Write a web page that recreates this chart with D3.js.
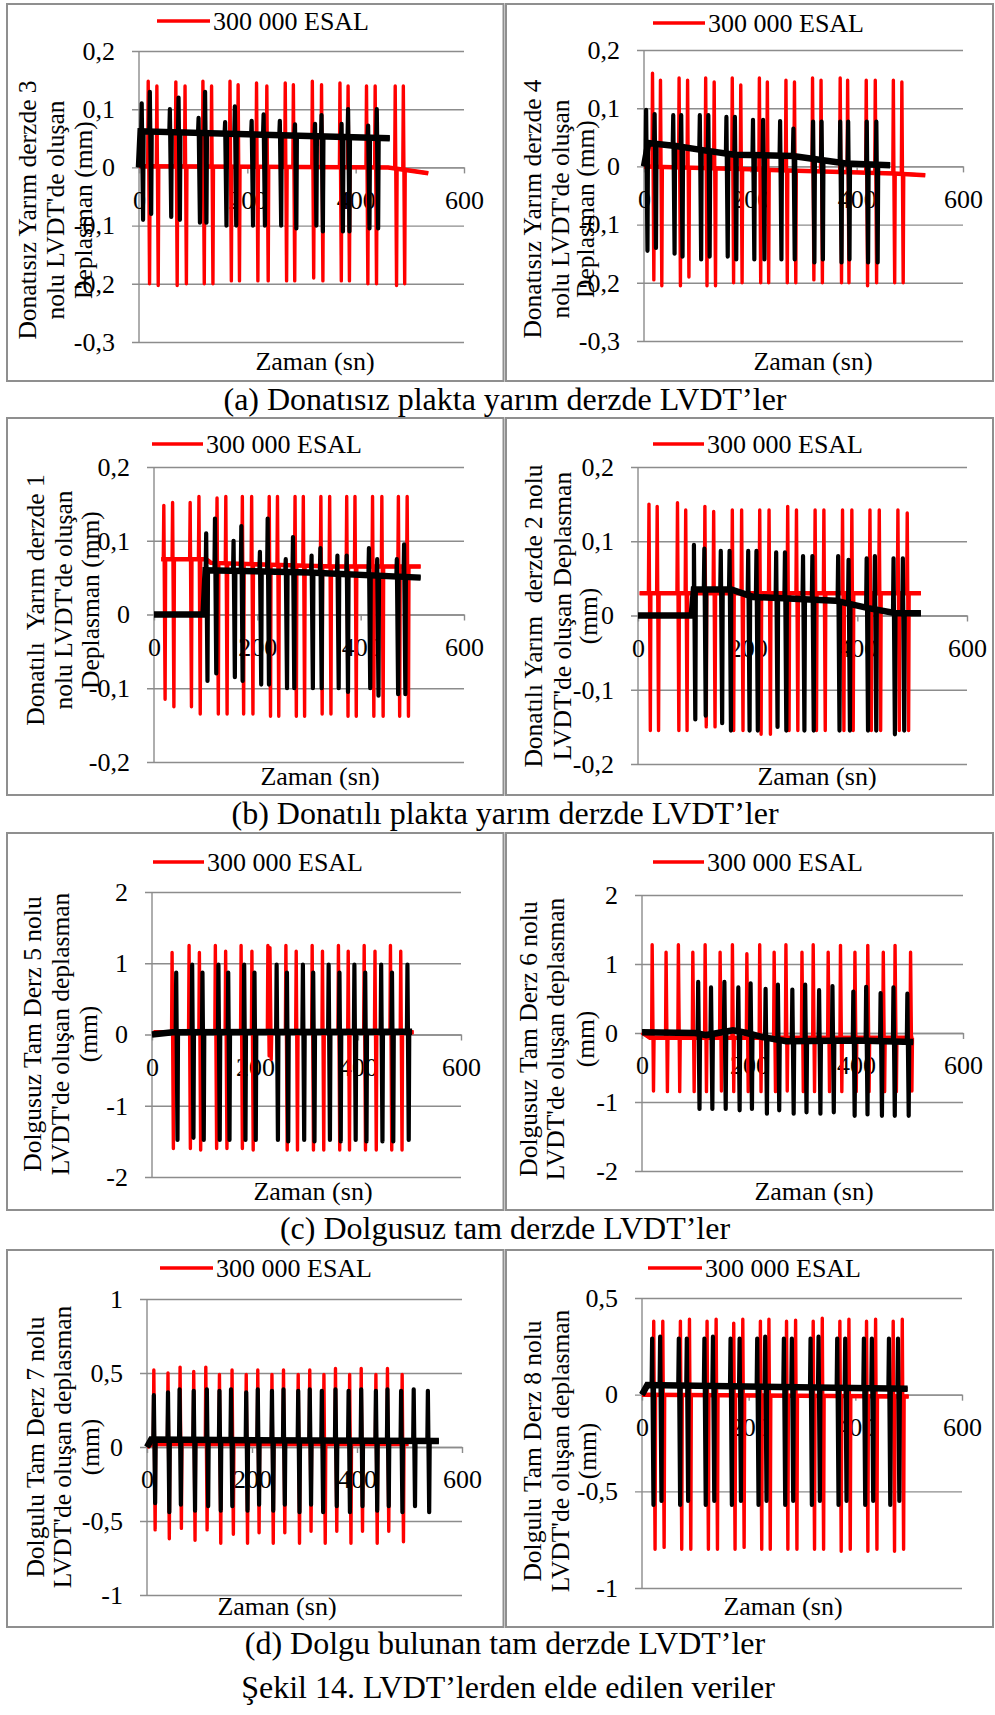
<!DOCTYPE html>
<html>
<head>
<meta charset="utf-8">
<script src="https://cdn.jsdelivr.net/npm/d3@7"></script>
<style>
  body { margin: 0; background: #fff; }
  svg { display: block; }
  text { font-family: "Liberation Serif", "Times New Roman", serif; fill: #000; }
</style>
</head>
<body>
<div id="fig"></div>
<script>
// ---- data (time in s, displacement in mm) ----
const xTicks = [0, 200, 400, 600];
const legendLabel = "300 000 ESAL";

// (a) left - LVDT 3
const a1Ticks = [-0.3, -0.2, -0.1, 0, 0.1, 0.2];
const a1RedBaseT = [0, 460, 534];
const a1RedBaseV = [0.002, 0, -0.01];
const a1RedT = [17, 33, 68, 85, 118, 134, 168, 183, 217, 236, 270, 285, 320, 337, 371, 386, 420, 436, 473, 488];
const a1RedHi = [0.148, 0.14, 0.147, 0.14, 0.148, 0.14, 0.148, 0.142, 0.145, 0.14, 0.145, 0.142, 0.148, 0.142, 0.145, 0.14, 0.14, 0.14, 0.14, 0.14];
const a1RedLo = [-0.2, -0.203, -0.203, -0.2, -0.2, -0.2, -0.195, -0.195, -0.195, -0.195, -0.195, -0.195, -0.19, -0.195, -0.195, -0.195, -0.2, -0.2, -0.203, -0.2];
const a1BlkBaseT = [0, 3, 463];
const a1BlkBaseV = [0, 0.062, 0.05];
const a1BlkT = [5, 20, 57, 73, 110, 122, 159, 177, 208, 230, 260, 288, 325, 337, 374, 386, 423, 439];
const a1BlkHi = [0.11, 0.13, 0.10, 0.12, 0.085, 0.13, 0.078, 0.105, 0.08, 0.091, 0.08, 0.074, 0.075, 0.09, 0.075, 0.1, 0.072, 0.1];
const a1BlkLo = [-0.09, -0.08, -0.085, -0.09, -0.095, -0.095, -0.1, -0.1, -0.1, -0.1, -0.1, -0.105, -0.1, -0.11, -0.11, -0.11, -0.105, -0.105];

// (a) right - LVDT 4
const a2Ticks = [-0.3, -0.2, -0.1, 0, 0.1, 0.2];
const a2RedBaseT = [0, 200, 470, 529];
const a2RedBaseV = [0, -0.005, -0.012, -0.015];
const a2RedT = [16, 31, 66, 82, 116, 132, 166, 182, 217, 232, 267, 283, 317, 333, 369, 383, 418, 435, 469, 485];
const a2RedHi = [0.16, 0.148, 0.152, 0.148, 0.152, 0.145, 0.152, 0.14, 0.152, 0.145, 0.148, 0.145, 0.152, 0.148, 0.152, 0.148, 0.148, 0.148, 0.148, 0.145];
const a2RedLo = [-0.195, -0.205, -0.205, -0.19, -0.205, -0.205, -0.2, -0.2, -0.2, -0.2, -0.2, -0.2, -0.195, -0.2, -0.2, -0.2, -0.205, -0.2, -0.2, -0.2];
const a2BlkBaseT = [0, 8, 60, 110, 170, 280, 380, 463];
const a2BlkBaseV = [0, 0.04, 0.035, 0.028, 0.02, 0.018, 0.005, 0.002];
const a2BlkT = [4, 20, 55, 70, 105, 121, 155, 171, 205, 224, 256, 281, 318, 334, 369, 384, 419, 437];
const a2BlkHi = [0.097, 0.09, 0.088, 0.088, 0.088, 0.088, 0.085, 0.085, 0.08, 0.08, 0.078, 0.065, 0.077, 0.077, 0.077, 0.077, 0.077, 0.077];
const a2BlkLo = [-0.145, -0.14, -0.15, -0.155, -0.16, -0.155, -0.155, -0.16, -0.16, -0.16, -0.16, -0.16, -0.165, -0.16, -0.165, -0.16, -0.165, -0.165];

// (b) left - LVDT 1
const b1Ticks = [-0.2, -0.1, 0, 0.1, 0.2];
const b1RedBaseT = [14, 101, 110, 347, 516];
const b1RedBaseV = [0.075, 0.075, 0.07, 0.065, 0.065];
const b1RedT = [19, 36, 70, 87, 122, 139, 171, 189, 223, 239, 273, 289, 323, 340, 373, 389, 423, 441, 473, 490];
const b1RedHi = [0.148, 0.152, 0.152, 0.16, 0.158, 0.16, 0.16, 0.16, 0.16, 0.16, 0.16, 0.16, 0.16, 0.16, 0.16, 0.16, 0.16, 0.16, 0.16, 0.16];
const b1RedLo = [-0.115, -0.125, -0.125, -0.135, -0.135, -0.135, -0.135, -0.135, -0.138, -0.138, -0.138, -0.138, -0.135, -0.135, -0.138, -0.138, -0.138, -0.138, -0.138, -0.138];
const b1BlkBaseT = [0, 96, 100, 300, 516];
const b1BlkBaseV = [0, 0, 0.06, 0.057, 0.05];
const b1BlkT = [101, 118, 154, 169, 205, 220, 255, 269, 305, 322, 355, 373, 416, 432, 470, 484];
const b1BlkHi = [0.11, 0.13, 0.1, 0.12, 0.085, 0.13, 0.075, 0.105, 0.08, 0.09, 0.08, 0.08, 0.09, 0.075, 0.075, 0.095];
const b1BlkLo = [-0.09, -0.08, -0.085, -0.09, -0.095, -0.095, -0.1, -0.1, -0.1, -0.1, -0.1, -0.105, -0.1, -0.11, -0.108, -0.108];

// (b) right - LVDT 2
const b2Ticks = [-0.2, -0.1, 0, 0.1, 0.2];
const b2RedBaseT = [3, 516];
const b2RedBaseV = [0.03, 0.03];
const b2RedT = [20, 35, 72, 87, 122, 138, 172, 189, 222, 239, 273, 289, 323, 339, 373, 390, 423, 440, 474, 491];
const b2RedHi = [0.15, 0.147, 0.152, 0.142, 0.147, 0.14, 0.142, 0.142, 0.142, 0.142, 0.147, 0.142, 0.142, 0.142, 0.142, 0.142, 0.142, 0.142, 0.142, 0.138];
const b2RedLo = [-0.155, -0.155, -0.155, -0.155, -0.15, -0.15, -0.155, -0.155, -0.16, -0.16, -0.155, -0.155, -0.155, -0.155, -0.155, -0.155, -0.155, -0.155, -0.155, -0.155];
const b2BlkBaseT = [0, 98, 102, 170, 210, 360, 420, 470, 516];
const b2BlkBaseV = [0, 0, 0.035, 0.035, 0.025, 0.02, 0.01, 0.003, 0.003];
const b2BlkT = [102, 121, 151, 167, 201, 216, 252, 268, 301, 318, 365, 384, 417, 432, 466, 483];
const b2BlkHi = [0.095, 0.09, 0.087, 0.087, 0.087, 0.087, 0.085, 0.085, 0.08, 0.08, 0.08, 0.075, 0.077, 0.08, 0.077, 0.077];
const b2BlkLo = [-0.14, -0.135, -0.145, -0.155, -0.155, -0.155, -0.15, -0.155, -0.155, -0.155, -0.155, -0.155, -0.155, -0.155, -0.16, -0.155];

// (c) left - LVDT 5
const c1Ticks = [-2, -1, 0, 1, 2];
const c1RedBaseT = [3, 508];
const c1RedBaseV = [0.03, 0.03];
const c1RedT = [39, 72, 92, 123, 143, 173, 194, 225, 229, 260, 280, 311, 331, 362, 381, 412, 433, 463, 483];
const c1RedHi = [1.15, 1.25, 1.15, 1.25, 1.17, 1.25, 1.17, 1.25, 1.22, 1.25, 1.17, 1.25, 1.17, 1.25, 1.17, 1.25, 1.17, 1.25, 1.17];
const c1RedLo = [-1.6, -1.6, -1.62, -1.6, -1.6, -1.6, -1.62, -0.3, -0.35, -1.62, -1.62, -1.62, -1.62, -1.62, -1.62, -1.62, -1.62, -1.62, -1.62];
const c1BlkBaseT = [0, 40, 505];
const c1BlkBaseV = [0, 0.03, 0.04];
const c1BlkT = [47, 78, 98, 129, 148, 179, 199, 242, 262, 293, 313, 343, 364, 393, 414, 445, 466, 496];
const c1BlkHi = [0.87, 0.98, 0.87, 0.98, 0.87, 0.98, 0.87, 0.98, 0.87, 0.98, 0.87, 0.98, 0.87, 0.98, 0.87, 0.98, 0.87, 0.98];
const c1BlkLo = [-1.48, -1.45, -1.48, -1.48, -1.48, -1.48, -1.48, -1.48, -1.5, -1.48, -1.5, -1.48, -1.5, -1.48, -1.5, -1.5, -1.5, -1.48];

// (c) right - LVDT 6
const c2Ticks = [-2, -1, 0, 1, 2];
const c2RedBaseT = [0, 15, 507];
const c2RedBaseV = [0.01, -0.07, -0.07];
const c2RedT = [19, 45, 68, 95, 118, 146, 169, 196, 220, 247, 269, 299, 320, 348, 371, 398, 422, 451, 473, 502];
const c2RedHi = [1.28, 1.17, 1.28, 1.17, 1.28, 1.17, 1.28, 1.15, 1.28, 1.17, 1.28, 1.17, 1.28, 1.17, 1.27, 1.17, 1.27, 1.17, 1.27, 1.17];
const c2RedLo = [-0.84, -0.85, -0.85, -0.85, -0.85, -0.84, -0.85, -0.85, -0.85, -0.85, -0.84, -0.85, -0.85, -0.85, -0.85, -0.85, -0.85, -0.85, -0.85, -0.84];
const c2BlkBaseT = [0, 100, 120, 170, 196, 225, 270, 400, 507];
const c2BlkBaseV = [0.01, 0, -0.03, 0.04, 0, -0.06, -0.12, -0.11, -0.13];
const c2BlkT = [105, 129, 154, 180, 203, 231, 254, 281, 305, 331, 356, 395, 419, 446, 470, 496];
const c2BlkHi = [0.74, 0.66, 0.74, 0.66, 0.72, 0.64, 0.7, 0.63, 0.7, 0.62, 0.68, 0.6, 0.67, 0.58, 0.66, 0.57];
const c2BlkLo = [-1.1, -1.1, -1.1, -1.12, -1.1, -1.17, -1.12, -1.17, -1.15, -1.17, -1.15, -1.2, -1.18, -1.2, -1.2, -1.2];

// (d) left - LVDT 7
const d1Ticks = [-1, -0.5, 0, 0.5, 1];
const d1RedBaseT = [0, 10, 498];
const d1RedBaseV = [0, 0.02, 0.02];
const d1RedT = [13, 40, 63, 89, 112, 138, 162, 189, 211, 238, 260, 288, 310, 337, 359, 386, 408, 436, 458, 486];
const d1RedHi = [0.52, 0.5, 0.54, 0.51, 0.54, 0.49, 0.52, 0.49, 0.52, 0.49, 0.52, 0.49, 0.52, 0.49, 0.53, 0.49, 0.53, 0.49, 0.53, 0.49];
const d1RedLo = [-0.56, -0.62, -0.55, -0.63, -0.56, -0.65, -0.59, -0.65, -0.58, -0.65, -0.58, -0.65, -0.57, -0.65, -0.57, -0.65, -0.57, -0.65, -0.57, -0.64];
const d1BlkBaseT = [0, 8, 556];
const d1BlkBaseV = [0, 0.05, 0.04];
const d1BlkT = [13, 40, 62, 89, 114, 138, 160, 189, 211, 238, 260, 288, 310, 333, 359, 384, 408, 436, 458, 484, 508, 535];
const d1BlkHi = [0.35, 0.37, 0.39, 0.38, 0.39, 0.38, 0.39, 0.37, 0.39, 0.38, 0.39, 0.38, 0.39, 0.38, 0.39, 0.38, 0.39, 0.38, 0.39, 0.38, 0.39, 0.38];
const d1BlkLo = [-0.38, -0.44, -0.39, -0.43, -0.4, -0.43, -0.4, -0.43, -0.39, -0.43, -0.39, -0.44, -0.39, -0.44, -0.4, -0.44, -0.4, -0.43, -0.4, -0.44, -0.4, -0.44];

// (d) right - LVDT 8
const d2Ticks = [-1, -0.5, 0, 0.5];
const d2RedBaseT = [0, 500];
const d2RedBaseV = [0, -0.01];
const d2RedT = [22, 39, 72, 89, 122, 139, 172, 189, 222, 238, 271, 288, 321, 338, 371, 388, 421, 438, 471, 488];
const d2RedHi = [0.38, 0.38, 0.38, 0.39, 0.38, 0.39, 0.37, 0.39, 0.38, 0.39, 0.38, 0.385, 0.38, 0.395, 0.38, 0.39, 0.38, 0.39, 0.38, 0.39];
const d2RedLo = [-0.8, -0.79, -0.8, -0.8, -0.8, -0.8, -0.8, -0.79, -0.8, -0.8, -0.8, -0.8, -0.8, -0.8, -0.81, -0.8, -0.81, -0.8, -0.81, -0.8];
const d2BlkBaseT = [0, 10, 498];
const d2BlkBaseV = [0, 0.05, 0.03];
const d2BlkT = [19, 34, 69, 84, 117, 133, 166, 183, 216, 231, 266, 281, 316, 331, 366, 381, 416, 431, 463, 480];
const d2BlkHi = [0.29, 0.3, 0.29, 0.29, 0.29, 0.3, 0.29, 0.29, 0.29, 0.3, 0.29, 0.29, 0.29, 0.3, 0.29, 0.29, 0.29, 0.29, 0.29, 0.29];
const d2BlkLo = [-0.57, -0.55, -0.57, -0.55, -0.57, -0.55, -0.57, -0.55, -0.57, -0.55, -0.57, -0.55, -0.57, -0.55, -0.57, -0.55, -0.57, -0.55, -0.57, -0.55];

const yTitles = [
  ["Donatısız Yarım derzde 3", "nolu LVDT'de oluşan", "Deplasman (mm)"],
  ["Donatısız Yarım derzde 4", "nolu LVDT'de oluşan", "Deplasman (mm)"],
  ["Donatılı  Yarım derzde 1", "nolu LVDT'de oluşan", "Deplasman (mm)"],
  ["Donatılı Yarım  derzde 2 nolu", "LVDT'de oluşan Deplasman", "(mm)"],
  ["Dolgusuz Tam Derz 5 nolu", "LVDT'de oluşan deplasman", "(mm)"],
  ["Dolgusuz Tam Derz 6 nolu", "LVDT'de oluşan deplasman", "(mm)"],
  ["Dolgulu Tam Derz 7 nolu", "LVDT'de oluşan deplasman", "(mm)"],
  ["Dolgulu Tam Derz 8 nolu", "LVDT'de oluşan deplasman", "(mm)"]
];
const xTitle = "Zaman (sn)";
const captions = [
  "(a) Donatısız plakta yarım derzde LVDT’ler",
  "(b) Donatılı plakta yarım derzde LVDT’ler",
  "(c) Dolgusuz tam derzde LVDT’ler",
  "(d) Dolgu bulunan tam derzde LVDT’ler"
];
const figTitle = "Şekil 14. LVDT’lerden elde edilen veriler";

// ---- layout ----
const W = 995, H = 1715;
const gridColor = "#8c8c8c";
const rows = [[4, 381], [418, 795], [833, 1210], [1250, 1627]];
const captionY = [410, 824, 1239, 1654];

const panels = [
  { ticks: a1Ticks, red: [a1RedBaseT, a1RedBaseV, a1RedT, a1RedHi, a1RedLo], blk: [a1BlkBaseT, a1BlkBaseV, a1BlkT, a1BlkHi, a1BlkLo],
    ax: 139, right: 464, yTop: 51, yBot: 342, leg: [157, 210, 21], tx: [27, 55, 83], ty: 210, xt: [315, 370] },
  { ticks: a2Ticks, red: [a2RedBaseT, a2RedBaseV, a2RedT, a2RedHi, a2RedLo], blk: [a2BlkBaseT, a2BlkBaseV, a2BlkT, a2BlkHi, a2BlkLo],
    ax: 644, right: 963, yTop: 50, yBot: 341, leg: [653, 705, 23], tx: [532, 560, 585], ty: 209, xt: [813, 370] },
  { ticks: b1Ticks, red: [b1RedBaseT, b1RedBaseV, b1RedT, b1RedHi, b1RedLo], blk: [b1BlkBaseT, b1BlkBaseV, b1BlkT, b1BlkHi, b1BlkLo],
    ax: 154, right: 464, yTop: 467, yBot: 762, leg: [152, 203, 444], tx: [35, 63, 90], ty: 600, xt: [320, 785] },
  { ticks: b2Ticks, red: [b2RedBaseT, b2RedBaseV, b2RedT, b2RedHi, b2RedLo], blk: [b2BlkBaseT, b2BlkBaseV, b2BlkT, b2BlkHi, b2BlkLo],
    ax: 638, right: 967, yTop: 467, yBot: 764, leg: [653, 704, 444], tx: [533, 562, 588], ty: 616, xt: [817, 785] },
  { ticks: c1Ticks, red: [c1RedBaseT, c1RedBaseV, c1RedT, c1RedHi, c1RedLo], blk: [c1BlkBaseT, c1BlkBaseV, c1BlkT, c1BlkHi, c1BlkLo],
    ax: 152, right: 461, yTop: 892, yBot: 1177, leg: [153, 204, 862], tx: [32, 60, 88], ty: 1034, xt: [313, 1200] },
  { ticks: c2Ticks, red: [c2RedBaseT, c2RedBaseV, c2RedT, c2RedHi, c2RedLo], blk: [c2BlkBaseT, c2BlkBaseV, c2BlkT, c2BlkHi, c2BlkLo],
    ax: 642, right: 963, yTop: 895, yBot: 1171, leg: [653, 704, 862], tx: [528, 555, 585], ty: 1039, xt: [814, 1200] },
  { ticks: d1Ticks, red: [d1RedBaseT, d1RedBaseV, d1RedT, d1RedHi, d1RedLo], blk: [d1BlkBaseT, d1BlkBaseV, d1BlkT, d1BlkHi, d1BlkLo],
    ax: 147, right: 462, yTop: 1299, yBot: 1595, leg: [160, 213, 1268], tx: [35, 62, 90], ty: 1447, xt: [277, 1615] },
  { ticks: d2Ticks, red: [d2RedBaseT, d2RedBaseV, d2RedT, d2RedHi, d2RedLo], blk: [d2BlkBaseT, d2BlkBaseV, d2BlkT, d2BlkHi, d2BlkLo],
    ax: 642, right: 962, yTop: 1298, yBot: 1588, leg: [648, 702, 1268], tx: [532, 560, 587], ty: 1451, xt: [783, 1615] }
];

const svg = d3.select("#fig").append("svg")
    .attr("width", W)
    .attr("height", H);

// table frame
const frame = svg.append("g")
    .attr("fill", "none")
    .attr("stroke", "#8f8f8f")
    .attr("stroke-width", 2);
rows.forEach(r => {
    frame.append("rect").attr("x", 7).attr("y", r[0]).attr("width", 503.5 - 7).attr("height", r[1] - r[0]);
    frame.append("rect").attr("x", 506).attr("y", r[0]).attr("width", 993 - 506).attr("height", r[1] - r[0]);
});

const fmt = d => String(+d.toFixed(2)).replace(".", ",");

// base line (piecewise, through a d3 scale) with the spikes inserted
function seriesPoints(baseT, baseV, spikeT, hi, lo) {
    const base = d3.scaleLinear().domain(baseT).range(baseV);
    let pts = baseT.map((t, i) => [t, baseV[i]]);
    spikeT.forEach((t, i) => {
        pts.push([t - 1, base(t - 1)], [t, hi[i]], [t + 2.5, lo[i]], [t + 3.5, base(t + 3.5)]);
    });
    pts.sort((a, b) => a[0] - b[0]);
    return pts;
}

function drawPanel(p, k) {
    const g = svg.append("g");
    const x = d3.scaleLinear().domain([0, 600]).range([p.ax, p.right]);
    const y = d3.scaleLinear()
        .domain([p.ticks[0], p.ticks[p.ticks.length - 1]])
        .range([p.yBot, p.yTop]);

    // horizontal grid lines
    g.append("g")
        .attr("transform", `translate(${p.right},0)`)
        .call(d3.axisLeft(y).tickValues(p.ticks).tickSize(p.right - p.ax + 7).tickFormat(""))
        .call(a => a.select(".domain").remove())
        .selectAll("line")
        .attr("stroke", gridColor)
        .attr("stroke-width", 1.4);

    // vertical axis line
    g.append("line")
        .attr("x1", p.ax).attr("x2", p.ax)
        .attr("y1", p.yTop).attr("y2", p.yBot)
        .attr("stroke", gridColor)
        .attr("stroke-width", 1.4);

    // y tick labels
    g.append("g")
        .attr("transform", `translate(${p.ax},0)`)
        .call(d3.axisLeft(y).tickValues(p.ticks).tickSize(0).tickPadding(24).tickFormat(fmt))
        .call(a => a.select(".domain").remove())
        .selectAll("text")
        .style("font-family", '"Liberation Serif", serif')
        .style("font-size", "26px")
        .attr("fill", "#000");

    // x axis through zero
    const xa = g.append("g")
        .attr("transform", `translate(0,${y(0)})`)
        .call(d3.axisBottom(x).tickValues(xTicks).tickSize(6).tickSizeOuter(0).tickPadding(17));
    xa.selectAll("line, path").attr("stroke", gridColor).attr("stroke-width", 1.4);
    xa.selectAll("text")
        .style("font-family", '"Liberation Serif", serif')
        .style("font-size", "26px")
        .attr("fill", "#000");

    // series: a thicker base band, then the full trace
    const line = d3.line().x(d => x(d[0])).y(d => y(d[1]));
    const series = [[p.red, "#ff0000", 4.5, 3.4], [p.blk, "#000", 6.5, 4.2]];
    series.forEach(([s, col, wBase, wLine]) => {
        g.append("path")
            .datum(s[0].map((t, i) => [t, s[1][i]]))
            .attr("d", line)
            .attr("fill", "none")
            .attr("stroke", col)
            .attr("stroke-width", wBase);
        g.append("path")
            .datum(seriesPoints(...s))
            .attr("d", line)
            .attr("fill", "none")
            .attr("stroke", col)
            .attr("stroke-width", wLine)
            .attr("stroke-linejoin", "round");
    });

    // legend
    g.append("line")
        .attr("x1", p.leg[0]).attr("x2", p.leg[1])
        .attr("y1", p.leg[2]).attr("y2", p.leg[2])
        .attr("stroke", "#ff0000")
        .attr("stroke-width", 3.5);
    g.append("text")
        .attr("x", p.leg[1] + 3)
        .attr("y", p.leg[2] + 9)
        .style("font-size", "26px")
        .text(legendLabel);

    // axis titles
    yTitles[k].forEach((s, i) => {
        g.append("text")
            .attr("transform", `translate(${p.tx[i]},${p.ty}) rotate(-90)`)
            .attr("text-anchor", "middle")
            .attr("dominant-baseline", "central")
            .style("font-size", "25.5px")
            .style("white-space", "pre")
            .text(s);
    });
    g.append("text")
        .attr("x", p.xt[0])
        .attr("y", p.xt[1])
        .attr("text-anchor", "middle")
        .style("font-size", "26px")
        .text(xTitle);
}

panels.forEach(drawPanel);

// captions
captions.forEach((c, i) => {
    svg.append("text")
        .attr("x", 505)
        .attr("y", captionY[i])
        .attr("text-anchor", "middle")
        .style("font-size", "32px")
        .text(c);
});
svg.append("text")
    .attr("x", 508)
    .attr("y", 1698)
    .attr("text-anchor", "middle")
    .style("font-size", "32px")
    .text(figTitle);
</script>
</body>
</html>
